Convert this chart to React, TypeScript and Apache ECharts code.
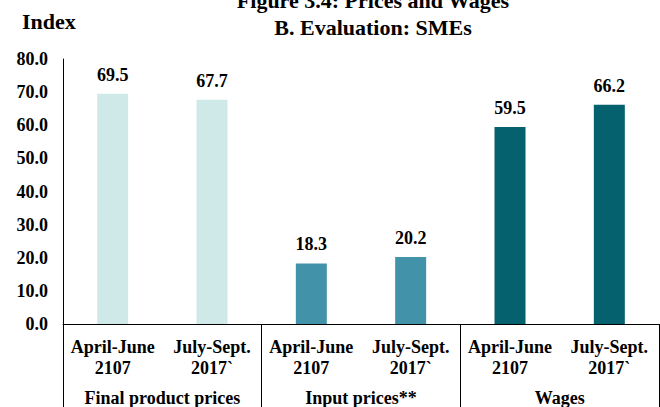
import React, { useEffect, useRef } from "react";
import * as echarts from "echarts";

const periods = ["April-June\n2107", "July-Sept.\n2017`", "April-June\n2107", "July-Sept.\n2017`", "April-June\n2107", "July-Sept.\n2017`"];
const groups = ["Final product prices", "Input prices**", "Wages"];
const values = [69.5, 67.7, 18.3, 20.2, 59.5, 66.2];
const barColors = ["#cfe9e9", "#cfe9e9", "#4293a9", "#4293a9", "#05616e", "#05616e"];
const titleLines = ["Figure 3.4: Prices and Wages", "B. Evaluation: SMEs"];
const yName = "Index";

const FONT = "Liberation Serif";

export default function App() {
  const ref = useRef<HTMLDivElement>(null);
  useEffect(() => {
    if (!ref.current) return;
    const chart = echarts.init(ref.current, null, { renderer: "svg" });
    chart.setOption({
      animation: false,
      backgroundColor: "#ffffff",
      textStyle: { fontFamily: FONT },
      grid: { left: 63, right: 1, top: 59, bottom: 83, containLabel: false },
      graphic: [
        {
          type: "text",
          style: { text: titleLines[0], x: 373, y: 0, align: "center", verticalAlign: "middle", fontFamily: FONT, fontWeight: "bold", fontSize: 22, fill: "#000" },
        },
        {
          type: "text",
          style: { text: titleLines[1], x: 373, y: 27, align: "center", verticalAlign: "middle", fontFamily: FONT, fontWeight: "bold", fontSize: 22, fill: "#000" },
        },
        {
          type: "text",
          style: { text: yName, x: 22, y: 21, align: "left", verticalAlign: "middle", fontFamily: FONT, fontWeight: "bold", fontSize: 22, fill: "#000" },
        },
      ],
      xAxis: [
        {
          type: "category",
          data: periods,
          axisLine: { show: true, lineStyle: { color: "#000", width: 1 } },
          axisTick: { show: false },
          axisLabel: { interval: 0, margin: 12, fontFamily: FONT, fontWeight: "bold", fontSize: 18, color: "#000", lineHeight: 21 },
        },
        {
          type: "category",
          data: groups,
          position: "bottom",
          offset: 0,
          axisLine: { show: false },
          axisTick: { show: true, length: 90, interval: 0, lineStyle: { color: "#000", width: 1 } },
          axisLabel: { interval: 0, margin: 65, fontFamily: FONT, fontWeight: "bold", fontSize: 18, color: "#000" },
        },
      ],
      yAxis: {
        type: "value",
        min: 0,
        max: 80,
        interval: 10,
        axisLine: { show: true, lineStyle: { color: "#000", width: 1 } },
        axisTick: { show: false },
        splitLine: { show: false },
        axisLabel: { formatter: (v: number) => v.toFixed(1), fontFamily: FONT, fontWeight: "bold", fontSize: 18, color: "#000", margin: 15 },
      },
      series: [
        {
          type: "bar",
          xAxisIndex: 0,
          barWidth: 31,
          data: values.map((v, i) => ({ value: v, itemStyle: { color: barColors[i] } })),
          label: {
            show: true,
            position: "top",
            distance: 10,
            formatter: (p: any) => Number(p.value).toFixed(1),
            fontFamily: FONT,
            fontWeight: "bold",
            fontSize: 18,
            color: "#000",
          },
        },
      ],
    });
    return () => chart.dispose();
  }, []);
  return <div ref={ref} style={{ width: 660, height: 407, position: "absolute", left: 0, top: 0 }} />;
}
